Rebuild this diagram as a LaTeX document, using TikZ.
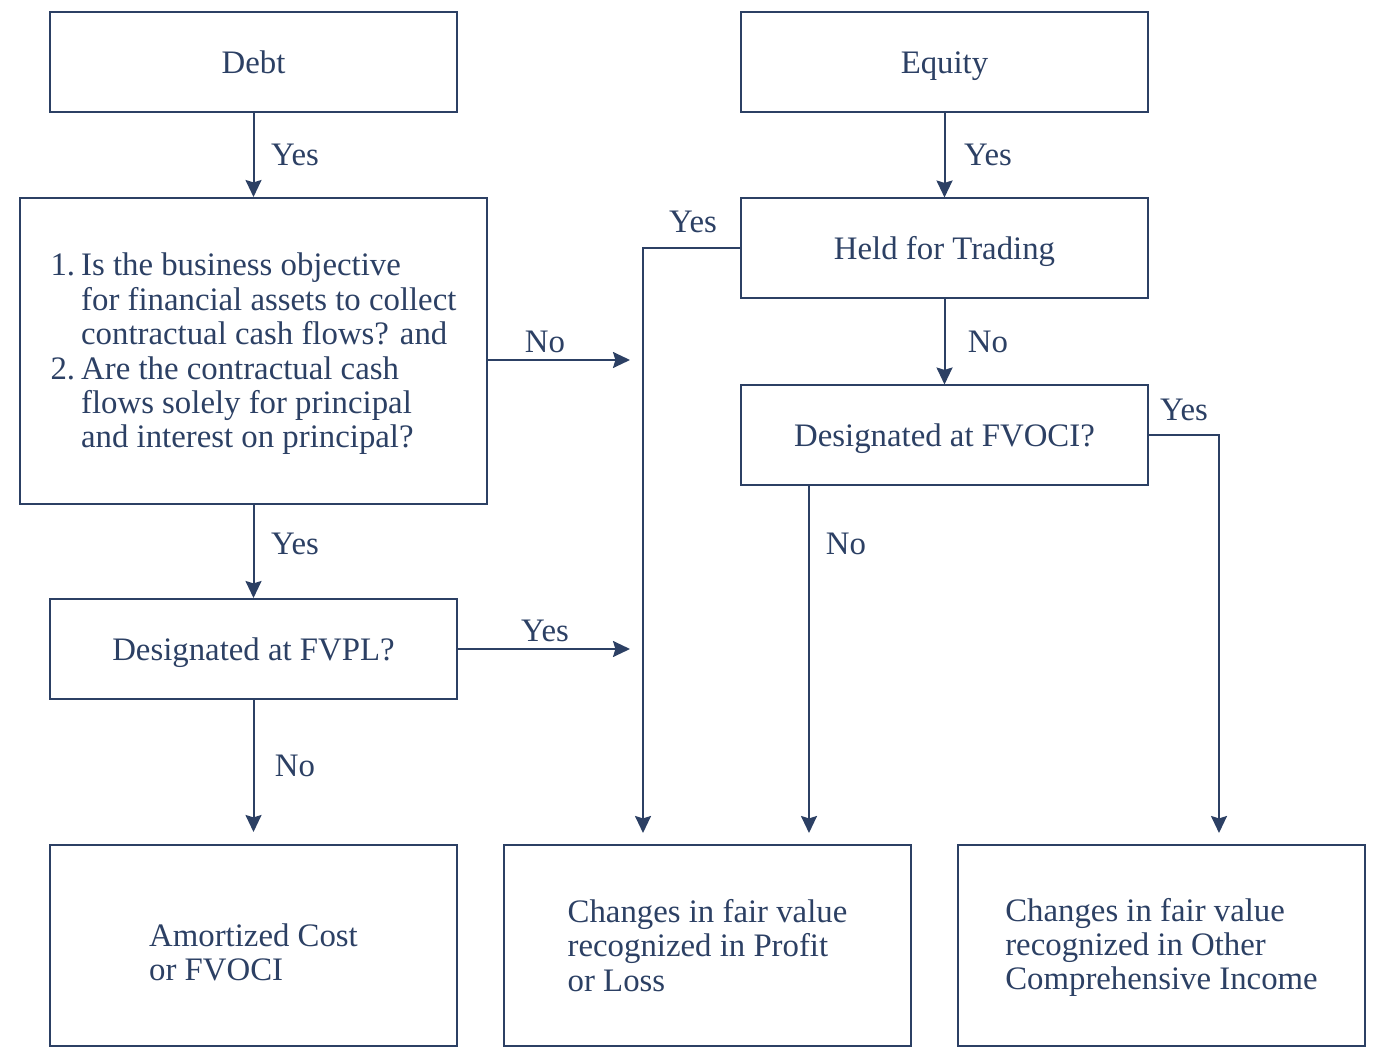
\documentclass[tikz,border=0pt]{standalone}
\usepackage{fontspec}
\setmainfont{Liberation Serif}
\usetikzlibrary{arrows.meta,calc}
\definecolor{navy}{RGB}{44,64,100}
\begin{document}
\begin{tikzpicture}[x=0.5pt,y=-0.5pt,
  font=\fontsize{16.4pt}{17.2pt}\selectfont,
  every node/.style={text=navy},
  box/.style={draw=navy,line width=1pt,minimum width=203.5pt,minimum height=50pt,inner sep=0pt,text height=13pt,text depth=1.5pt},
  bigbox/.style={draw=navy,line width=1pt,minimum width=203.5pt,minimum height=100.5pt,inner sep=0pt},
  arr/.style={draw=navy,line width=1pt,-{Stealth[length=8.5pt,width=8pt,inset=1.2pt]}},
  lbl/.style={inner sep=0pt}]
\useasboundingbox (0,0) rectangle (1380,1058);
\node[box] (debt) at (253.5,62) {Debt};
\node[box] (equity) at (944.5,62) {Equity};
\node[draw=navy,line width=1pt,minimum width=233.5pt,minimum height=153pt,inner sep=0pt] (q) at (253.5,351) {};
\node[inner sep=0pt] (qtext) at (253.5,355) {%
  \begin{tabular}{@{}l@{\hspace{3pt}}l@{}}
  1.& Is the business objective\\
    & for financial assets to collect\\
    & contractual cash flows? and\\
  2.& Are the contractual cash\\
    & flows solely for principal\\
    & and interest on principal?
  \end{tabular}};
\node[box] (held) at (944.5,248.5) {Held for Trading};
\node[box] (fvoci) at (944.5,435.5) {Designated at FVOCI?};
\node[box] (fvpl) at (253.5,649) {Designated at FVPL?};
\node[bigbox] (amort) at (253.5,945.5) {};
\node[align=left,inner sep=0pt] (amorttext) at (253.5,952.5) {Amortized Cost\\or FVOCI};
\node[bigbox,align=left] (pl) at (707.5,945.5) {Changes in fair value\\recognized in Profit\\or Loss};
\node[bigbox] (oci) at (1161.5,945.5) {};
\node[align=left,inner sep=0pt] (ocitext) at (1161.5,947.5) {Changes in fair value\\recognized in Other\\Comprehensive Income};
\coordinate (qend) at (630,360);
\coordinate (fvplend) at (630,649);
% connectors
\draw[arr] (debt) -- (q);
\node[lbl] (l1) at (295,155) {Yes};
\draw[arr] (equity) -- (held);
\node[lbl] (l2) at (988,155) {Yes};
\draw[arr] (q.east |- qend) -- (qend);
\node[lbl] (l3) at (545,342) {No};
\draw[arr,shorten >=6pt] (held.west) -| (643,845);
\node[lbl] (l4) at (693,222) {Yes};
\draw[arr] (held) -- (fvoci);
\node[lbl] (l5) at (988,342) {No};
\draw[arr,shorten >=6pt] (fvoci.east) -| (1219,845);
\node[lbl] (l6) at (1184,410) {Yes};
\draw[arr,shorten >=6pt] (fvoci.south -| 809,0) -- (809,845);
\node[lbl] (l7) at (846,544) {No};
\draw[arr] (q) -- (fvpl);
\node[lbl] (l8) at (295,544) {Yes};
\draw[arr] (fvpl.east) -- (fvplend);
\node[lbl] (l9) at (545,631) {Yes};
\draw[arr,shorten >=6pt] (fvpl) -- (amort);
\node[lbl] (l10) at (295,766) {No};
\end{tikzpicture}
\end{document}
